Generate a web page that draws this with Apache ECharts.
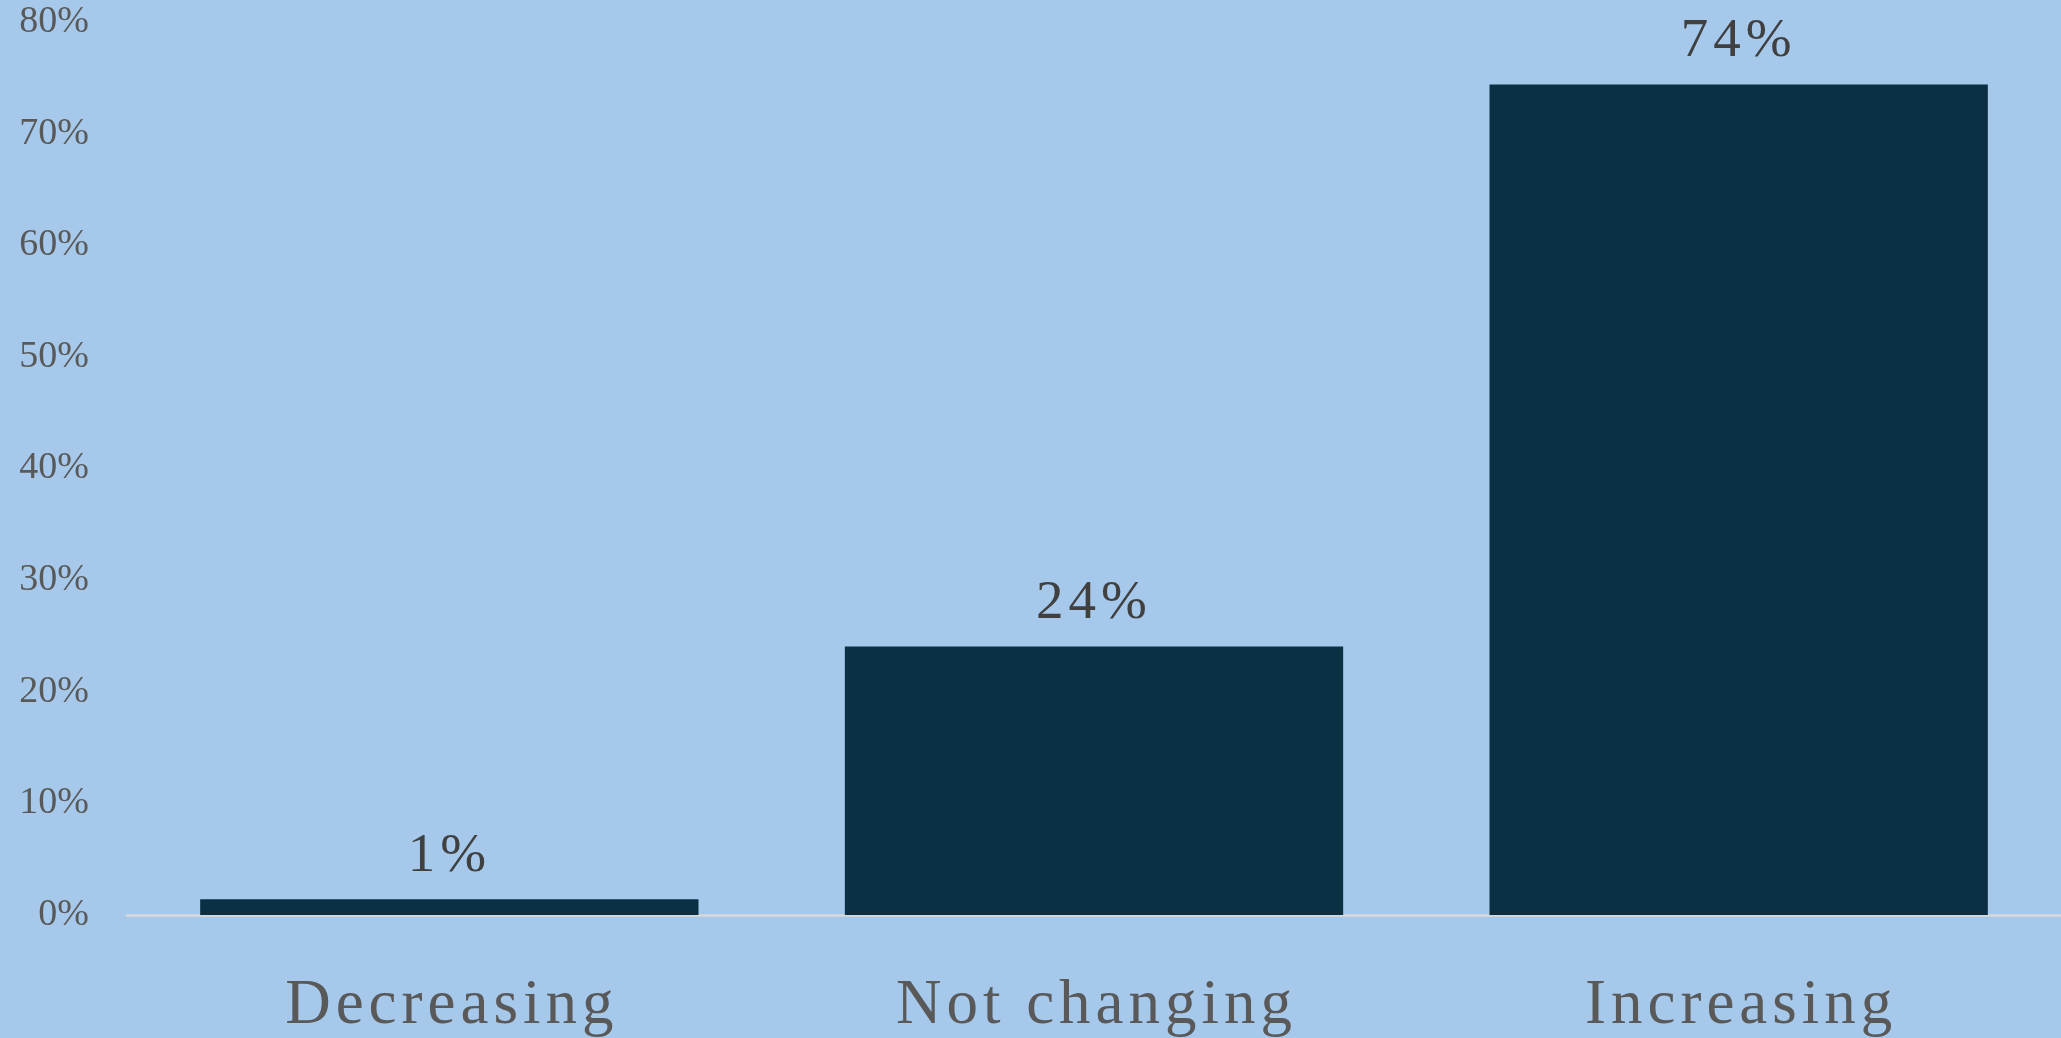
<!DOCTYPE html>
<html>
<head>
<meta charset="utf-8">
<script src="https://cdn.jsdelivr.net/npm/echarts@6/dist/echarts.min.js"></script>
<style>
  html, body { margin: 0; padding: 0; background: #A6C9EB; }
  #chart { width: 2061px; height: 1038px; }
</style>
</head>
<body>
<div id="chart"></div>
<script>
const categories = ['Decreasing', 'Not changing', 'Increasing'];
const values = [1.4, 24.05, 74.4];
const yTicks = { min: 0, max: 80, interval: 10 };

// Category labels in the reference are drawn with slight letter spacing.
(function () {
  const proto = CanvasRenderingContext2D.prototype;
  const origFill = proto.fillText;
  proto.fillText = function (text, x, y, maxWidth) {
    if ('letterSpacing' in this && /\b63px\b/.test(this.font)) {
      const prev = this.letterSpacing;
      this.letterSpacing = '5px';
      const r = maxWidth === undefined ? origFill.call(this, text, x + 2.5, y) : origFill.call(this, text, x + 2.5, y, maxWidth);
      this.letterSpacing = prev;
      return r;
    }
    return maxWidth === undefined ? origFill.call(this, text, x, y) : origFill.call(this, text, x, y, maxWidth);
  };
})();

const chart = echarts.init(document.getElementById('chart'), null, { renderer: 'canvas' });
chart.setOption({
  backgroundColor: '#A6C9EB',
  animation: false,
  grid: { left: 127, right: 0, top: 22, bottom: 121, containLabel: false },
  xAxis: {
    type: 'category',
    data: categories,
    axisLine: { show: true, lineStyle: { color: '#D9D9D9', width: 2.5 } },
    axisTick: { show: false },
    axisLabel: {
      color: '#595959',
      fontFamily: 'Liberation Serif',
      fontSize: 63,
      lineHeight: 63,
      margin: 60
    }
  },
  yAxis: {
    type: 'value',
    min: yTicks.min,
    max: yTicks.max,
    interval: yTicks.interval,
    splitLine: { show: false },
    axisLine: { show: false },
    axisTick: { show: false },
    axisLabel: {
      formatter: '{value}%',
      color: '#595959',
      fontFamily: 'Liberation Serif',
      fontSize: 38,
      margin: 38
    }
  },
  series: [{
    type: 'bar',
    data: values,
    barWidth: '77.3%',
    itemStyle: { color: '#0B2F43' },
    label: {
      show: true,
      position: 'top',
      distance: 15,
      color: '#404040',
      fontFamily: 'Liberation Serif',
      fontSize: 55,
      lineHeight: 55,
      formatter: p => Math.round(p.value) + '%'
    }
  }]
});
</script>
</body>
</html>
